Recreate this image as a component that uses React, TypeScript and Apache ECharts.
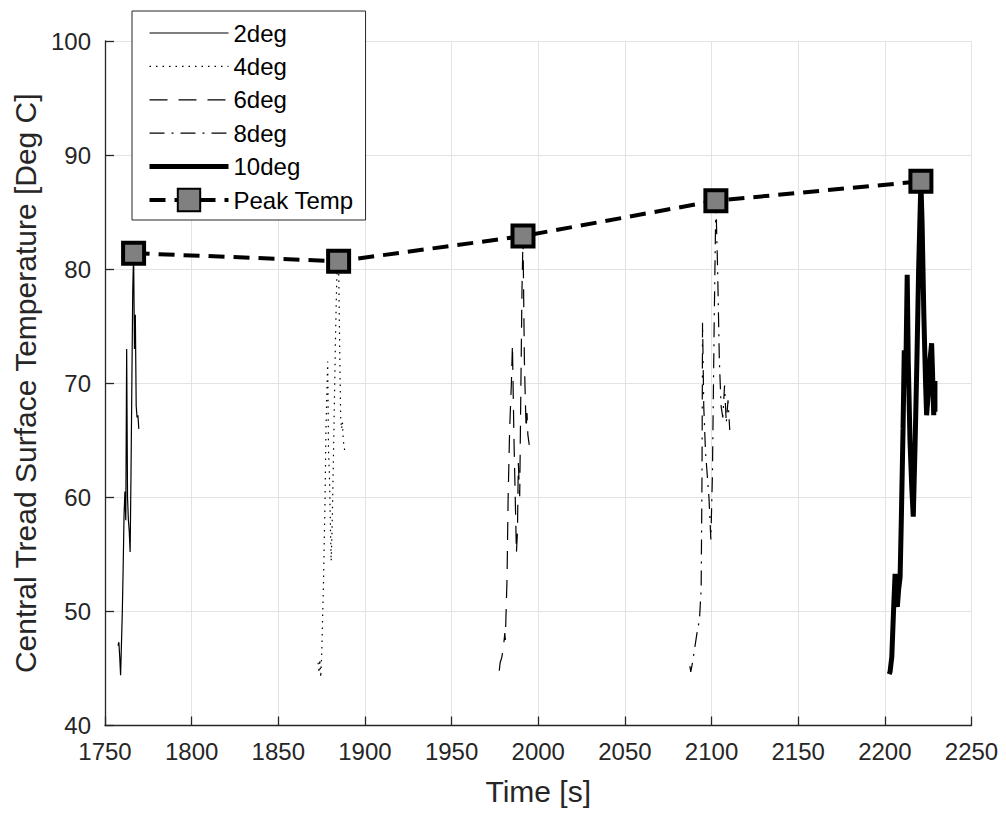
import React, { useEffect, useRef } from "react";
import * as echarts from "echarts";

// ---- data ----
const t2 = [1757.5, 1758, 1758.5, 1759, 1760, 1760.5, 1761, 1761.5, 1762, 1762.5, 1763, 1763.5, 1764, 1764.5, 1765, 1765.5, 1766, 1766.5, 1767, 1767.5, 1768, 1768.5, 1769, 1769.5];
const v2 = [47.0, 47.3, 46.0, 44.4, 50, 54, 58.5, 60.5, 58, 73, 60, 58, 57, 55.2, 62, 70, 78, 81.4, 73, 76, 68, 67, 67.2, 66];

const t4 = [1873, 1873.5, 1874, 1874.5, 1875, 1876, 1877, 1877.5, 1878.5, 1879, 1879.5, 1880, 1880.5, 1881, 1882, 1883, 1883.8, 1884.8, 1885.5, 1886, 1886.5, 1887, 1887.5, 1888.3];
const v4 = [45.5, 44.6, 45.8, 44.2, 46, 52, 60, 66, 71.9, 64, 62, 58, 54.4, 57, 65, 74, 79.5, 80.7, 72, 67, 66, 66.6, 65, 64.1];

const t6 = [1977.5, 1978, 1979, 1980, 1980.7, 1981, 1982, 1982.6, 1983.5, 1984.5, 1985.1, 1986, 1987, 1987.4, 1988, 1988.5, 1989.3, 1990, 1990.6, 1991.2, 1992, 1992.5, 1993, 1993.5, 1994, 1994.8];
const v6 = [44.8, 45.5, 46, 47, 48.1, 47.5, 53, 59.8, 66, 70, 73.4, 65, 58, 55.1, 57, 63, 60.1, 70, 78, 82.9, 72, 68.8, 66, 67.4, 65.5, 64.6];

const t8 = [2087.5, 2088, 2089, 2090, 2091, 2092, 2093, 2094, 2094.5, 2094.8, 2095.5, 2096.5, 2097.5, 2098.5, 2099.6, 2100.5, 2101.5, 2102.5, 2103.5, 2104.5, 2105.5, 2106.5, 2107.5, 2108.5, 2109.5, 2110.5];
const v8 = [45.2, 44.7, 45.5, 46.5, 47.5, 48.5, 49.2, 52, 62, 75.3, 68, 64, 62, 60, 56.3, 62, 75, 86, 80, 72, 68, 67, 69.8, 66.5, 68.5, 65.9];

const t10 = [2202.5, 2203, 2204, 2205, 2205.9, 2206.5, 2207.2, 2208, 2208.8, 2209.5, 2210.5, 2211.2, 2212, 2212.9, 2213.5, 2214.5, 2215.5, 2216.4, 2217.5, 2218.5, 2219.5, 2220.8, 2221.5, 2222.5, 2223.5, 2224.1, 2225, 2226, 2227, 2227.5, 2228.2, 2228.9, 2228.9];
const v10 = [44.5, 44.7, 46, 50, 53.3, 51, 50.4, 52, 53, 58, 66, 72.9, 70, 79.5, 72, 65, 61, 58.3, 65, 72, 80, 87.7, 84, 76, 70, 67.2, 69, 72, 73.5, 71, 67.2, 70.2, 67.5];

const peakTimes = [1766.5, 1884.8, 1991.2, 2102.5, 2220.8];
const peakTemps = [81.4, 80.7, 82.9, 86.0, 87.7];

const seriesNames = ["2deg", "4deg", "6deg", "8deg", "10deg", "Peak Temp"];
const seriesWidths = [1.2, 1.2, 1.2, 1.2, 5, 4];

const zip = (a: number[], b: number[]) => a.map((x, i) => [x, b[i]]);

const FONT = "'Liberation Sans', Arial, Helvetica, sans-serif";
const TXT = "#262626";

export default function App() {
  const ref = useRef<HTMLDivElement>(null);
  useEffect(() => {
    document.body.style.margin = "0";
    const chart = echarts.init(ref.current!, null, { renderer: "svg" });
    const lineSeries = (name: string, data: number[][], width: number, type: any) => ({
      name,
      type: "line",
      data,
      symbol: "none",
      showSymbol: false,
      lineStyle: { color: "#000", width, type },
      itemStyle: { color: "#000" },
      z: 2,
    });
    const legendData = seriesNames.map((name, i) =>
      i < 5
        ? { name, itemStyle: { opacity: 0 }, lineStyle: { width: seriesWidths[i] } }
        : { name, lineStyle: { width: seriesWidths[i] } }
    );
    chart.setOption({
      animation: false,
      textStyle: { fontFamily: FONT, color: TXT },
      grid: { left: 105, top: 41, right: 34.5, bottom: 90.5, containLabel: false },
      legend: {
        orient: "vertical",
        left: 132,
        top: 11,
        data: legendData,
        itemWidth: 79,
        itemHeight: 28,
        itemGap: 5.4,
        padding: [8, 12, 6, 15],
        backgroundColor: "#fff",
        borderColor: "#262626",
        borderWidth: 1,
        borderRadius: 0,
        textStyle: { fontFamily: FONT, fontSize: 24, color: "#000", lineHeight: 28 },
        selectedMode: false,
      },
      xAxis: {
        type: "value",
        min: 1750,
        max: 2250,
        interval: 50,
        name: "Time [s]",
        nameLocation: "middle",
        nameGap: 51,
        nameTextStyle: { fontFamily: FONT, fontSize: 30, color: TXT },
        axisLine: { show: true, onZero: false, lineStyle: { color: TXT, width: 1.3 } },
        axisTick: { show: true, inside: true, length: 9, lineStyle: { color: TXT, width: 1.3 } },
        axisLabel: { fontFamily: FONT, fontSize: 24, color: TXT, margin: 14, formatter: (v: number) => String(v) },
        splitLine: { show: true, lineStyle: { color: "#e3e3e3", width: 1 } },
      },
      yAxis: {
        type: "value",
        min: 40,
        max: 100,
        interval: 10,
        name: "Central Tread Surface Temperature [Deg C]",
        nameLocation: "middle",
        nameRotate: 90,
        nameGap: 57,
        nameTextStyle: { fontFamily: FONT, fontSize: 30, color: TXT },
        axisLine: { show: true, onZero: false, lineStyle: { color: TXT, width: 1.3 } },
        axisTick: { show: true, inside: true, length: 9, lineStyle: { color: TXT, width: 1.3 } },
        axisLabel: { fontFamily: FONT, fontSize: 24, color: TXT, margin: 14, formatter: (v: number) => String(v) },
        splitLine: { show: true, lineStyle: { color: "#e3e3e3", width: 1 } },
      },
      series: [
        lineSeries("2deg", zip(t2, v2), seriesWidths[0], "solid"),
        lineSeries("4deg", zip(t4, v4), seriesWidths[1], [1.5, 5]),
        lineSeries("6deg", zip(t6, v6), seriesWidths[2], [18, 11]),
        lineSeries("8deg", zip(t8, v8), seriesWidths[3], [15, 7, 2, 7]),
        lineSeries("10deg", zip(t10, v10), seriesWidths[4], "solid"),
        {
          name: "Peak Temp",
          type: "line",
          data: zip(peakTimes, peakTemps),
          symbol: "rect",
          symbolSize: 21,
          showSymbol: true,
          lineStyle: { color: "#000", width: seriesWidths[5], type: [16, 9] },
          itemStyle: { color: "#808080", borderColor: "#000", borderWidth: 4 },
          z: 5,
        },
      ],
    });
    return () => chart.dispose();
  }, []);
  return <div ref={ref} style={{ width: 1006, height: 816 }} />;
}
